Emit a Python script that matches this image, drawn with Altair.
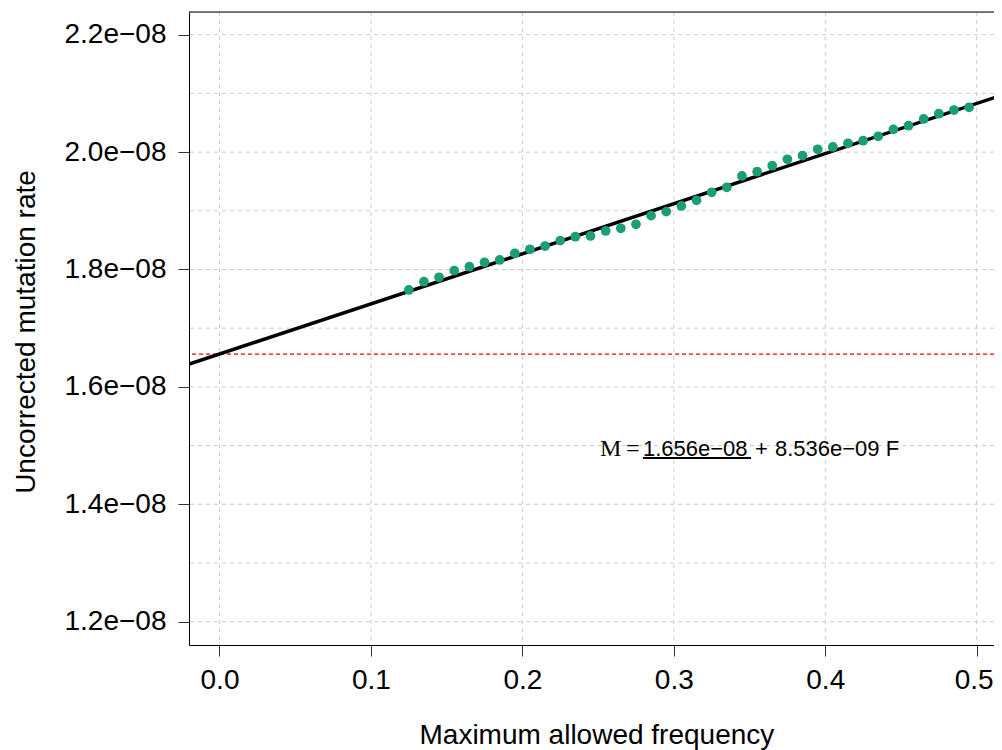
import altair as alt
import pandas as pd

# ---- data ----
freq = [0.125, 0.135, 0.145, 0.155, 0.165, 0.175, 0.185, 0.195, 0.205, 0.215,
        0.225, 0.235, 0.245, 0.255, 0.265, 0.275, 0.285, 0.295, 0.305, 0.315,
        0.325, 0.335, 0.345, 0.355, 0.365, 0.375, 0.385, 0.395, 0.405, 0.415,
        0.425, 0.435, 0.445, 0.455, 0.465, 0.475, 0.485, 0.495]
rate = [1.7651e-08, 1.7792e-08, 1.7867e-08, 1.7980e-08, 1.8048e-08, 1.8123e-08,
        1.8162e-08, 1.8276e-08, 1.8344e-08, 1.8400e-08, 1.8491e-08, 1.8559e-08,
        1.8571e-08, 1.8656e-08, 1.8702e-08, 1.8770e-08, 1.8917e-08, 1.8985e-08,
        1.9082e-08, 1.9179e-08, 1.9315e-08, 1.9400e-08, 1.9593e-08, 1.9666e-08,
        1.9768e-08, 1.9877e-08, 1.9939e-08, 2.0048e-08, 2.0087e-08, 2.0150e-08,
        2.0194e-08, 2.0269e-08, 2.0388e-08, 2.0450e-08, 2.0564e-08, 2.0654e-08,
        2.0717e-08, 2.0763e-08]
intercept = 1.656e-08
slope = 8.536e-09

x_ticks = [0.0, 0.1, 0.2, 0.3, 0.4, 0.5]
y_ticks = [1.2e-08, 1.4e-08, 1.6e-08, 1.8e-08, 2.0e-08, 2.2e-08]
y_tick_labels = ["1.2e\u221208", "1.4e\u221208", "1.6e\u221208", "1.8e\u221208", "2.0e\u221208", "2.2e\u221208"]
y_grid = [1.2e-08, 1.3e-08, 1.4e-08, 1.5e-08, 1.6e-08, 1.7e-08, 1.8e-08, 1.9e-08,
          2.0e-08, 2.1e-08, 2.2e-08]

x_domain = [-0.02014, 0.51143]
y_domain = [1.1603e-08, 2.23867e-08]

eq_serif = ["M", "="]
eq_serif_x = [0.2513, 0.2684]
eq_sans = ["1.656e\u221208", "+", "8.536e\u221209 F"]
eq_sans_x = [0.2796, 0.3536, 0.3668]
eq_y = 1.4823e-08
underline_x = [0.2796, 0.3510]
underline_y = 1.4789e-08

W, H = 805, 633
FONT = "Liberation Sans"

# ---- tables ----
pts = pd.DataFrame({"F": freq, "M": rate})
fit_x = [-0.05, 0.55]
fit = pd.DataFrame({"F": fit_x, "M": [intercept + slope * v for v in fit_x]})
ygrid_df = pd.DataFrame({"M": y_grid})
xgrid_df = pd.DataFrame({"F": x_ticks})
serif_df = pd.DataFrame({"F": eq_serif_x, "M": [eq_y] * len(eq_serif), "t": eq_serif})
sans_df = pd.DataFrame({"F": eq_sans_x, "M": [eq_y] * len(eq_sans), "t": eq_sans})
ul_df = pd.DataFrame({"F": [underline_x[0]], "F2": [underline_x[1]], "M": [underline_y]})
hline_df = pd.DataFrame({"M": [intercept]})

xs = alt.Scale(domain=x_domain, nice=False, zero=False)
ys = alt.Scale(domain=y_domain, nice=False, zero=False)

label_expr = "[" + ",".join("'" + s + "'" for s in y_tick_labels) + "][round(datum.value*5e8) - 6]"

x_axis = alt.Axis(values=x_ticks, format=".1f", tickSize=11, labelPadding=32,
                  labelBaseline="alphabetic", labelFontSize=28, labelColor="black",
                  labelOffset={"condition": {"test": "datum.value >= 0.45", "value": -3}, "value": 0},
                  domainColor="black", tickColor="#333333", grid=False,
                  title="Maximum allowed frequency", titleFontSize=28,
                  titleFontWeight="normal", titleColor="black",
                  titleX=407.4, titleY=98, titleBaseline="alphabetic", titleAlign="center")
y_axis = alt.Axis(values=y_ticks, labelExpr=label_expr, tickSize=11, labelPadding=12,
                  labelFontSize=28, labelColor="black", domainColor="black",
                  tickColor="#333333", grid=False,
                  title="Uncorrected mutation rate", titleFontSize=28,
                  titleFontWeight="normal", titleColor="black",
                  titleX=-155, titleY=319.5, titleBaseline="alphabetic",
                  titleAngle=270, titleAlign="center")

X = alt.X("F:Q", scale=xs, axis=x_axis)
Y = alt.Y("M:Q", scale=ys, axis=y_axis)

grid_y = alt.Chart(ygrid_df).mark_rule(color="#cccccc", strokeDash=[4, 4], strokeWidth=1).encode(y=Y)
grid_x = alt.Chart(xgrid_df).mark_rule(color="#cccccc", strokeDash=[4, 4], strokeWidth=1).encode(x=X)
hline = alt.Chart(hline_df).mark_rule(color="red", strokeDash=[4, 3], strokeWidth=1.2).encode(y=Y)
fit_line = alt.Chart(fit).mark_line(color="black", strokeWidth=3.5, clip=True).encode(x=X, y=Y)
points = alt.Chart(pts).mark_circle(color="#1B9E77", opacity=1, size=95).encode(x=X, y=Y)
txt_serif = alt.Chart(serif_df).mark_text(font="Liberation Serif", fontSize=24, align="left",
                                          baseline="alphabetic", color="black").encode(
    x=X, y=Y, text="t:N")
txt_sans = alt.Chart(sans_df).mark_text(font=FONT, fontSize=22, align="left",
                                        baseline="alphabetic", color="black").encode(
    x=X, y=Y, text="t:N")
underline = alt.Chart(ul_df).mark_rule(color="black", strokeWidth=2).encode(x=X, x2="F2:Q", y=Y)
top_border = alt.Chart(hline_df).mark_rule(color="black", strokeWidth=1).encode(
    x=alt.value(0), x2=alt.value(W), y=alt.value(0))

chart = alt.layer(grid_y, grid_x, hline, fit_line, points, txt_serif, txt_sans, underline,
                  top_border).properties(
    width=W, height=H,
    autosize=alt.AutoSizeParams(type="none"),
    padding={"left": 181, "top": 4, "right": 0, "bottom": 106},
).configure_view(stroke=None).configure(font=FONT).configure_axis(
    labelFont=FONT, titleFont=FONT, domainWidth=1, tickWidth=1)

chart.save("out.html", embed_options={"renderer": "svg", "actions": False})
